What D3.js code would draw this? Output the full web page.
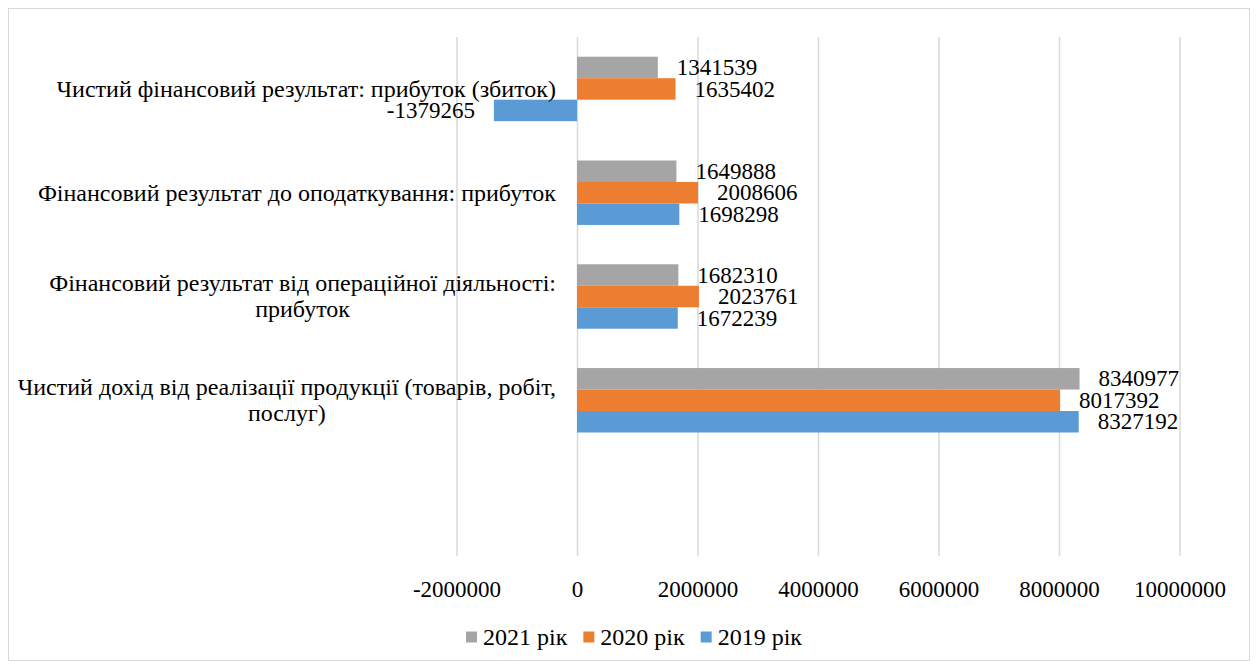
<!DOCTYPE html>
<html lang="uk">
  <head>
    <meta charset="UTF-8" />
    <title>Фінансові результати</title>
    <script src="https://d3js.org/d3.v7.min.js"></script>
    <style>
      body {
        margin: 0;
        background: #ffffff;
      }
      text {
        font-family: "Liberation Serif", "Times New Roman", serif;
        fill: #000000;
      }
    </style>
  </head>
  <body>
    <svg id="chart"></svg>
    <script>
      const WIDTH = 1258;
      const HEIGHT = 669;

      // categories top to bottom (bottom slot is empty in the original)
      const categories = [
        "Чистий фінансовий результат: прибуток (збиток)",
        "Фінансовий результат до оподаткування: прибуток",
        "Фінансовий результат від операційної діяльності:|прибуток",
        "Чистий дохід від реалізації продукції (товарів, робіт,|послуг)",
        ""
      ];
      const seriesNames = ["2021 рік", "2020 рік", "2019 рік"];
      const seriesColors = ["#A5A5A5", "#ED7D31", "#5B9BD5"];
      const values2021 = [1341539, 1649888, 1682310, 8340977];
      const values2020 = [1635402, 2008606, 2023761, 8017392];
      const values2019 = [-1379265, 1698298, 1672239, 8327192];
      const tickValues = [-2000000, 0, 2000000, 4000000, 6000000, 8000000, 10000000];

      const allValues = [values2021, values2020, values2019];
      const FONT = 23;
      const CAT_FONT = 24;

      const svg = d3.select("#chart").attr("width", WIDTH).attr("height", HEIGHT);

      // outer border
      svg.append("rect")
        .attr("x", 8.5).attr("y", 8.5)
        .attr("width", 1241).attr("height", 652)
        .attr("fill", "#fff")
        .attr("stroke", "#D9D9D9")
        .attr("stroke-width", 1);

      const plot = { left: 456.5, right: 1179.5, top: 37, bottom: 556 };

      const x = d3.scaleLinear().domain([-2000000, 10000000]).range([plot.left, plot.right]);
      const y = d3.scaleBand().domain(categories).range([plot.top, plot.bottom])
        .paddingInner(0.379).paddingOuter(0.19);
      const ySeries = d3.scaleBand().domain(seriesNames).range([0, y.bandwidth()]);

      // gridlines + tick labels
      const axis = svg.append("g")
        .attr("transform", `translate(0,${plot.bottom})`)
        .call(d3.axisBottom(x)
          .tickValues(tickValues)
          .tickFormat((d) => String(d))
          .tickSize(-(plot.bottom - plot.top))
          .tickPadding(25));
      axis.select(".domain").remove();
      axis.selectAll(".tick line").attr("stroke", "#D9D9D9").attr("stroke-width", 1.5);
      axis.selectAll(".tick text")
        .style("font-family", "'Liberation Serif', serif")
        .style("font-size", FONT + "px")
        .attr("fill", "#000");

      // bars
      const rows = [];
      categories.forEach((c, i) => {
        seriesNames.forEach((s, j) => {
          const v = allValues[j][i];
          if (v !== undefined) rows.push({ cat: c, series: s, color: seriesColors[j], value: v });
        });
      });

      svg.append("g").selectAll("rect")
        .data(rows)
        .join("rect")
        .attr("x", (d) => x(Math.min(0, d.value)))
        .attr("y", (d) => y(d.cat) + ySeries(d.series))
        .attr("width", (d) => Math.abs(x(d.value) - x(0)))
        .attr("height", ySeries.bandwidth())
        .attr("fill", (d) => d.color);

      // value labels
      svg.append("g").selectAll("text")
        .data(rows)
        .join("text")
        .attr("x", (d) => (d.value >= 0 ? x(d.value) + 19 : x(d.value) - 19))
        .attr("y", (d) => y(d.cat) + ySeries(d.series) + ySeries.bandwidth() / 2)
        .attr("dy", "0.33em")
        .attr("text-anchor", (d) => (d.value >= 0 ? "start" : "end"))
        .style("font-size", FONT + "px")
        .text((d) => String(d.value));

      // category labels: block right-aligned, lines centered
      const catG = svg.append("g");
      const LABEL_RIGHT = 556;
      const LINE_H = 26;
      categories.forEach((c) => {
        if (!c) return;
        const lines = c.split("|");
        const g = catG.append("g");
        const texts = lines.map((ln) => g.append("text").style("font-size", CAT_FONT + "px").text(ln));
        const maxW = d3.max(texts, (t) => t.node().getComputedTextLength());
        const cx = LABEL_RIGHT - maxW / 2;
        const cy = y(c) + y.bandwidth() / 2;
        const y0 = cy - ((lines.length - 1) * LINE_H) / 2;
        texts.forEach((t, i) => {
          t.attr("x", cx).attr("y", y0 + i * LINE_H).attr("dy", "0.33em").attr("text-anchor", "middle");
        });
      });

      // legend
      const legend = svg.append("g");
      const SQ = 11;
      const items = seriesNames.map((s, i) => {
        const g = legend.append("g");
        g.append("rect").attr("width", SQ).attr("height", SQ).attr("y", -SQ / 2).attr("fill", seriesColors[i]);
        const t = g.append("text").attr("x", SQ + 6).attr("dy", "0.33em").style("font-size", CAT_FONT + "px").text(s);
        return { g, w: SQ + 6 + t.node().getComputedTextLength() };
      });
      const GAP = 16;
      const total = d3.sum(items, (d) => d.w) + GAP * (items.length - 1);
      let lx = 634 - total / 2;
      items.forEach((it) => {
        it.g.attr("transform", `translate(${lx},637)`);
        lx += it.w + GAP;
      });
    </script>
  </body>
</html>
